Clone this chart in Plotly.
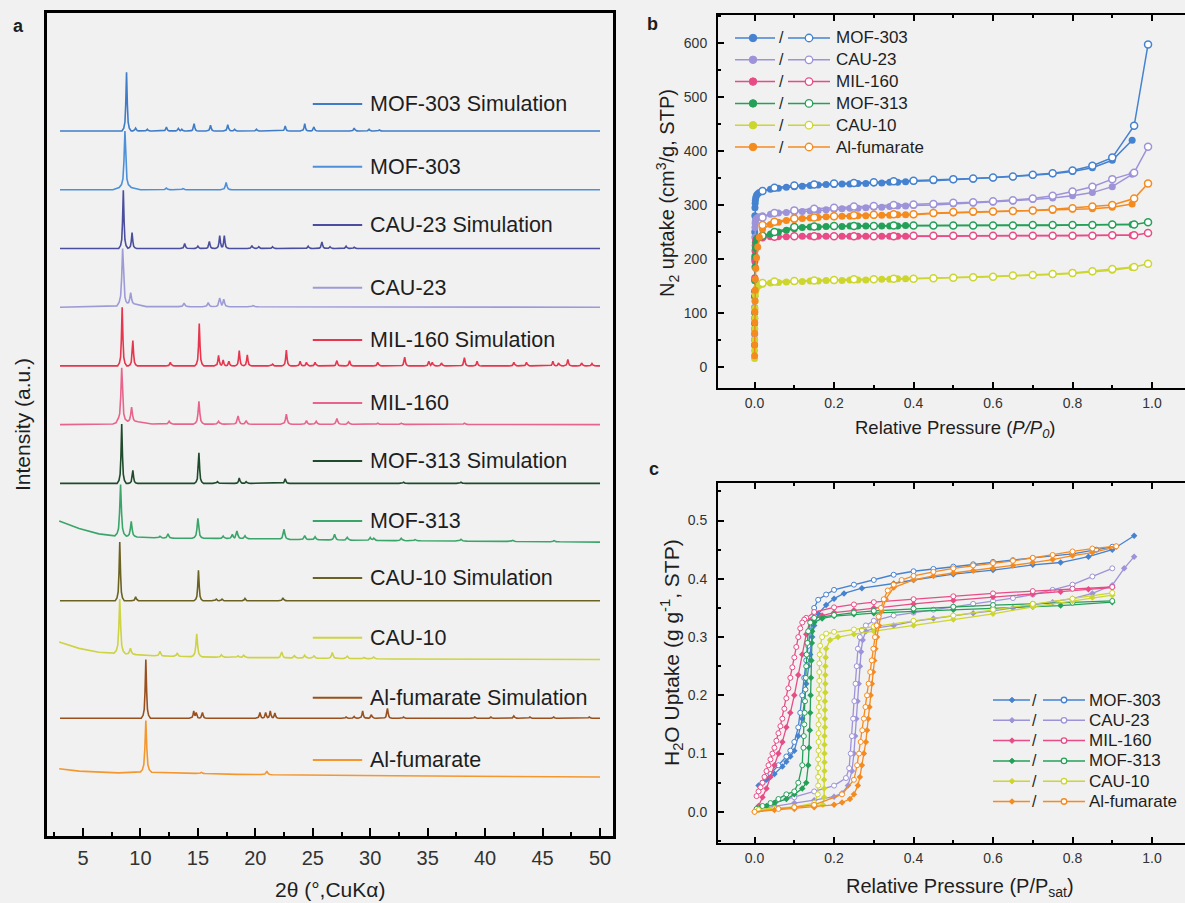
import numpy as np
import plotly.graph_objects as go

W, H = 1185, 903
BG = "#f1f1f1"
FONT = "Arial, 'Liberation Sans', Helvetica, sans-serif"
INK = "#1e1e1e"
TICK = "#333333"

# ======================= DATA : panel a (PXRD) =======================
xrd_names = ["MOF-303 Simulation", "MOF-303", "CAU-23 Simulation", "CAU-23",
             "MIL-160 Simulation", "MIL-160", "MOF-313 Simulation", "MOF-313",
             "CAU-10 Simulation", "CAU-10", "Al-fumarate Simulation", "Al-fumarate"]

# flat background for simulated patterns (2θ, intensity above own baseline)
sim_bg_x = [3.0, 50.0]
sim_bg_y = [0.0, 0.0]

mof303_sim_pos = [8.79, 9.58, 10.6, 12.26, 13.3, 13.6, 14.67, 16.1, 17.6, 18.2, 20.1, 22.6, 24.3, 25.1, 28.6, 29.9, 30.8]
mof303_sim_h = [1.0, 0.05, 0.03, 0.07, 0.045, 0.03, 0.125, 0.10, 0.11, 0.03, 0.03, 0.085, 0.125, 0.07, 0.05, 0.03, 0.02]

mof303_bg_x = [3.0, 7.6, 8.2, 9.2, 10.0, 50.0]
mof303_bg_y = [0.0, 0.0, 0.04, 0.04, 0.0, 0.0]
mof303_pos = [8.65, 12.26, 13.7, 17.46, 22.2, 28.2, 29.8]
mof303_h = [0.96, 0.03, 0.02, 0.125, 0.01, 0.01, 0.01]

cau23_sim_pos = [8.51, 9.27, 13.85, 15.0, 16.0, 16.9, 17.3, 19.7, 20.3, 21.5, 24.6, 25.8, 26.5, 27.9, 28.6]
cau23_sim_h = [0.99, 0.27, 0.085, 0.04, 0.12, 0.22, 0.22, 0.05, 0.03, 0.03, 0.04, 0.11, 0.03, 0.04, 0.02]

cau23_bg_x = [3.0, 7.8, 8.3, 9.6, 10.5, 50.0]
cau23_bg_y = [0.0, 0.01, 0.05, 0.05, 0.01, 0.0]
cau23_pos = [8.45, 9.15, 13.8, 15.9, 16.9, 17.25, 19.8]
cau23_h = [0.95, 0.2, 0.06, 0.07, 0.15, 0.13, 0.02]

mil160_sim_pos = [8.41, 9.34, 12.6, 15.12, 16.8, 17.2, 17.7, 18.6, 19.3, 21.5, 22.7, 23.9, 24.45, 25.2, 27.1,
                  28.2, 30.65, 33.0, 35.1, 35.4, 36.2, 38.2, 39.3, 42.5, 43.6, 45.9, 46.4, 47.2, 48.4, 49.3]
mil160_sim_h = [1.0, 0.43, 0.06, 0.72, 0.18, 0.1, 0.08, 0.26, 0.19, 0.03, 0.27, 0.08, 0.06, 0.06, 0.09,
                0.09, 0.06, 0.15, 0.08, 0.06, 0.05, 0.14, 0.08, 0.06, 0.06, 0.08, 0.05, 0.11, 0.05, 0.04]

mil160_bg_x = [3.0, 7.6, 8.1, 9.8, 11.0, 50.0]
mil160_bg_y = [0.0, 0.01, 0.05, 0.05, 0.01, 0.0]
mil160_pos = [8.37, 9.23, 12.5, 15.09, 16.8, 18.5, 19.2, 22.7, 24.45, 25.3, 27.1, 28.1, 30.65, 32.7, 38.2]
mil160_h = [0.92, 0.25, 0.05, 0.39, 0.05, 0.14, 0.06, 0.17, 0.06, 0.05, 0.1, 0.04, 0.02, 0.02, 0.02]

mof313_sim_pos = [8.37, 9.34, 15.09, 16.7, 18.6, 19.2, 22.6, 32.9, 37.9]
mof313_sim_h = [1.01, 0.22, 0.52, 0.03, 0.09, 0.03, 0.08, 0.02, 0.02]

mof313_bg_x = [2.93, 4.66, 6.38, 7.4, 11.5, 18.4, 28.8, 50.0]
mof313_bg_y = [0.36, 0.23, 0.14, 0.11, 0.07, 0.06, 0.03, 0.0]
mof313_pos = [8.27, 9.2, 11.7, 12.4, 15.0, 17.2, 18.0, 18.4, 19.1, 22.5, 24.3, 25.2, 26.9, 28.0,
              30.0, 30.3, 32.7, 33.9, 37.9, 42.4, 46.0]
mof313_h = [0.88, 0.26, 0.03, 0.07, 0.34, 0.04, 0.07, 0.13, 0.05, 0.17, 0.07, 0.05, 0.1, 0.05,
            0.05, 0.04, 0.04, 0.02, 0.03, 0.02, 0.02]

cau10_sim_pos = [8.2, 9.58, 15.05, 16.6, 17.1, 19.1, 22.4]
cau10_sim_h = [1.0, 0.07, 0.52, 0.03, 0.03, 0.04, 0.05]

cau10_bg_x = [2.93, 4.66, 6.38, 7.6, 11.5, 18.4, 32.0, 50.0]
cau10_bg_y = [0.3, 0.19, 0.125, 0.11, 0.06, 0.035, 0.01, 0.0]
cau10_pos = [8.2, 9.13, 11.7, 13.2, 14.9, 17.05, 18.5, 19.0, 22.3, 23.4, 24.3, 25.1, 26.7, 28.0, 29.45, 30.3]
cau10_h = [0.93, 0.1, 0.08, 0.05, 0.39, 0.04, 0.03, 0.04, 0.1, 0.04, 0.05, 0.04, 0.1, 0.04, 0.02, 0.03]

alfum_sim_pos = [10.47, 14.64, 14.85, 15.4, 20.4, 20.9, 21.3, 21.7, 27.9, 28.6, 29.34, 30.1, 31.5, 32.9,
                 39.1, 40.5, 42.5, 43.9, 45.97, 49.07]
alfum_sim_h = [1.0, 0.125, 0.1, 0.1, 0.1, 0.1, 0.125, 0.09, 0.02, 0.03, 0.125, 0.06, 0.17, 0.02,
               0.02, 0.02, 0.04, 0.02, 0.02, 0.02]

alfum_bg_x = [2.93, 4.66, 8.1, 10.0, 10.9, 18.4, 32.0, 50.0]
alfum_bg_y = [0.14, 0.1, 0.07, 0.08, 0.08, 0.045, 0.02, 0.0]
alfum_pos = [10.47, 15.3, 21.0]
alfum_h = [0.88, 0.02, 0.06]

xrd_tick_vals = [5, 10, 15, 20, 25, 30, 35, 40, 45, 50]

# ======================= DATA : panel b (N2 isotherms) =======================
n2_names = ["MOF-303", "CAU-23", "MIL-160", "MOF-313", "CAU-10", "Al-fumarate"]
n2_p_ads = [0.00005, 0.0001, 0.0002, 0.0004, 0.0007, 0.001, 0.0015, 0.002, 0.003, 0.005, 0.008, 0.012,
            0.02, 0.04, 0.06, 0.08, 0.10, 0.12, 0.14, 0.16, 0.18, 0.20, 0.22, 0.24, 0.26, 0.28, 0.30,
            0.32, 0.34, 0.36, 0.38, 0.40, 0.45, 0.50, 0.55, 0.60, 0.65, 0.70, 0.75, 0.80, 0.85, 0.90, 0.95]
n2_p_des = [0.99, 0.955, 0.90, 0.85, 0.80, 0.75, 0.70, 0.65, 0.60, 0.55, 0.50, 0.45, 0.40, 0.35,
            0.30, 0.25, 0.20, 0.15, 0.10, 0.05, 0.02]

n2_ads_mof303 = [80, 140, 200, 250, 280, 295, 303, 309, 314, 318, 321, 323, 326, 329, 331, 333, 334, 335,
                 336, 337, 338, 338, 339, 339, 340, 340, 341, 341, 342, 342, 343, 344, 345, 347, 348, 350,
                 352, 355, 358, 362, 369, 383, 420]
n2_ads_cau23 = [60, 110, 160, 205, 240, 258, 266, 270, 273, 275, 277, 278, 280, 283, 285, 286, 287, 288,
                289, 290, 291, 292, 293, 294, 294, 295, 296, 296, 297, 298, 298, 299, 300, 302, 303, 305,
                307, 310, 313, 317, 323, 334, 357]
n2_ads_mil160 = [50, 90, 130, 165, 195, 215, 225, 231, 235, 238, 239, 240, 241, 241, 241, 241, 242, 242,
                 242, 242, 242, 242, 242, 242, 242, 242, 242, 242, 242, 242, 242, 242, 242, 242, 243, 243,
                 243, 243, 243, 243, 243, 243, 244]
n2_ads_mof313 = [40, 70, 100, 130, 160, 185, 205, 220, 230, 236, 239, 240, 242, 246, 250, 253, 256, 258,
                 259, 259, 260, 260, 260, 261, 261, 261, 261, 261, 261, 261, 262, 262, 262, 262, 262, 262,
                 262, 262, 262, 263, 263, 263, 264]
n2_ads_cau10 = [15, 30, 50, 70, 90, 108, 122, 133, 141, 146, 149, 151, 153, 155, 156, 157, 158, 158,
                159, 159, 160, 160, 160, 161, 161, 161, 162, 162, 162, 163, 163, 163, 164, 165, 166, 167,
                168, 170, 171, 173, 176, 179, 184]
n2_ads_alfum = [20, 40, 62, 82, 102, 122, 142, 162, 182, 202, 222, 240, 255, 264, 268, 271, 273, 275,
                276, 277, 278, 278, 279, 279, 280, 280, 281, 281, 281, 282, 282, 282, 284, 285, 286, 287,
                288, 289, 290, 292, 293, 296, 302]

n2_des_mof303 = [598, 447, 388, 373, 364, 359, 356, 353, 351, 349, 348, 347, 345, 344, 342, 341, 340, 338, 336, 332, 326]
n2_des_cau23 = [408, 360, 348, 334, 325, 317, 312, 309, 307, 305, 304, 302, 301, 300, 298, 297, 295, 293, 290, 285, 277]
n2_des_mil160 = [248, 244, 244, 243, 243, 243, 243, 243, 243, 243, 243, 243, 243, 242, 242, 242, 242, 242, 242, 241, 240]
n2_des_mof313 = [268, 264, 264, 263, 263, 263, 263, 262, 262, 262, 262, 262, 262, 262, 261, 261, 261, 260, 259, 250, 243]
n2_des_cau10 = [191, 185, 181, 177, 174, 172, 170, 169, 167, 166, 165, 164, 163, 163, 162, 162, 161, 160, 159, 158, 155]
n2_des_alfum = [340, 312, 300, 297, 294, 292, 290, 289, 288, 288, 287, 285, 283, 283, 282, 281, 279, 277, 275, 269, 263]

# ======================= DATA : panel c (H2O isotherms) =======================
h2o_ads_p_mof303 = [0.01, 0.03, 0.05, 0.07, 0.08, 0.09, 0.10, 0.11, 0.12, 0.125, 0.13, 0.135, 0.14, 0.145, 0.15,
                    0.16, 0.18, 0.20, 0.225, 0.27, 0.35, 0.40, 0.50, 0.60, 0.70, 0.77, 0.84, 0.90, 0.955]
h2o_ads_mof303 = [0.045, 0.055, 0.065, 0.078, 0.086, 0.095, 0.105, 0.13, 0.16, 0.19, 0.22, 0.25, 0.27, 0.3, 0.32,
                  0.34, 0.355, 0.366, 0.375, 0.384, 0.392, 0.398, 0.408, 0.415, 0.424, 0.428, 0.438, 0.45, 0.474]
h2o_des_p_mof303 = [0.90, 0.86, 0.80, 0.70, 0.65, 0.60, 0.55, 0.50, 0.45, 0.40, 0.35, 0.30, 0.25, 0.20, 0.18, 0.16,
                    0.15, 0.145, 0.14, 0.135, 0.13, 0.125, 0.12, 0.115, 0.11, 0.10, 0.09, 0.08, 0.06, 0.04, 0.02]
h2o_des_mof303 = [0.455, 0.45, 0.443, 0.436, 0.432, 0.429, 0.425, 0.421, 0.417, 0.413, 0.407, 0.398, 0.39, 0.381,
                  0.373, 0.364, 0.35, 0.33, 0.31, 0.285, 0.26, 0.23, 0.2, 0.17, 0.145, 0.12, 0.105, 0.095, 0.08,
                  0.065, 0.05]

h2o_ads_p_cau23 = [0.01, 0.05, 0.10, 0.15, 0.20, 0.22, 0.235, 0.245, 0.25, 0.253, 0.256, 0.259, 0.262, 0.265,
                   0.268, 0.272, 0.28, 0.30, 0.35, 0.40, 0.45, 0.50, 0.55, 0.60, 0.65, 0.70, 0.75, 0.80, 0.85,
                   0.90, 0.93, 0.955]
h2o_ads_cau23 = [0.005, 0.01, 0.015, 0.02, 0.026, 0.032, 0.045, 0.07, 0.1, 0.13, 0.16, 0.19, 0.22, 0.25, 0.275,
                 0.295, 0.31, 0.315, 0.32, 0.327, 0.332, 0.337, 0.341, 0.345, 0.35, 0.355, 0.36, 0.366, 0.375,
                 0.389, 0.418, 0.438]
h2o_des_p_cau23 = [0.90, 0.85, 0.80, 0.75, 0.70, 0.65, 0.60, 0.55, 0.50, 0.45, 0.40, 0.35, 0.30, 0.28, 0.27,
                   0.265, 0.26, 0.257, 0.254, 0.251, 0.248, 0.245, 0.242, 0.238, 0.23, 0.20, 0.15, 0.10, 0.05, 0.01]
h2o_des_cau23 = [0.418, 0.404, 0.39, 0.381, 0.373, 0.367, 0.362, 0.357, 0.352, 0.347, 0.342, 0.337, 0.328, 0.32,
                 0.312, 0.3, 0.28, 0.25, 0.22, 0.19, 0.16, 0.13, 0.1, 0.075, 0.058, 0.045, 0.035, 0.025, 0.015, 0.008]

h2o_ads_p_mil160 = [0.01, 0.02, 0.03, 0.04, 0.05, 0.06, 0.07, 0.08, 0.09, 0.10, 0.11, 0.12, 0.13, 0.14, 0.17,
                    0.20, 0.25, 0.30, 0.40, 0.50, 0.60, 0.70, 0.77, 0.84, 0.90]
h2o_ads_mil160 = [0.01, 0.025, 0.04, 0.06, 0.08, 0.10, 0.12, 0.145, 0.17, 0.20, 0.235, 0.27, 0.305, 0.328, 0.337,
                  0.342, 0.346, 0.35, 0.357, 0.363, 0.369, 0.374, 0.378, 0.382, 0.385]
h2o_des_p_mil160 = [0.90, 0.80, 0.70, 0.60, 0.50, 0.40, 0.30, 0.25, 0.20, 0.15, 0.13, 0.125, 0.12, 0.115, 0.11,
                    0.105, 0.10, 0.095, 0.09, 0.085, 0.08, 0.075, 0.07, 0.065, 0.06, 0.055, 0.05, 0.045, 0.04,
                    0.035, 0.03, 0.025, 0.02, 0.015, 0.01, 0.005]
h2o_des_mil160 = [0.386, 0.383, 0.379, 0.375, 0.37, 0.365, 0.36, 0.356, 0.351, 0.343, 0.333, 0.33, 0.325, 0.315,
                  0.30, 0.283, 0.265, 0.248, 0.23, 0.212, 0.195, 0.177, 0.16, 0.147, 0.135, 0.122, 0.11, 0.1,
                  0.09, 0.08, 0.07, 0.06, 0.05, 0.042, 0.035, 0.027]

h2o_ads_p_mof313 = [0.01, 0.03, 0.05, 0.08, 0.10, 0.12, 0.13, 0.135, 0.137, 0.139, 0.14, 0.141, 0.142, 0.143,
                    0.144, 0.145, 0.15, 0.17, 0.20, 0.25, 0.30, 0.40, 0.50, 0.60, 0.70, 0.77, 0.90]
h2o_ads_mof313 = [0.005, 0.01, 0.015, 0.022, 0.03, 0.04, 0.05, 0.08, 0.11, 0.14, 0.17, 0.2, 0.23, 0.26, 0.29,
                  0.31, 0.325, 0.332, 0.336, 0.339, 0.341, 0.344, 0.347, 0.35, 0.352, 0.354, 0.36]
h2o_des_p_mof313 = [0.90, 0.80, 0.70, 0.60, 0.50, 0.40, 0.30, 0.25, 0.20, 0.15, 0.14, 0.135, 0.133, 0.131, 0.13,
                    0.129, 0.128, 0.127, 0.126, 0.125, 0.124, 0.123, 0.12, 0.11, 0.10, 0.08, 0.06, 0.04, 0.02, 0.005]
h2o_des_mof313 = [0.362, 0.359, 0.357, 0.355, 0.352, 0.349, 0.345, 0.342, 0.338, 0.333, 0.325, 0.31, 0.29, 0.27,
                  0.25, 0.23, 0.21, 0.19, 0.17, 0.15, 0.13, 0.11, 0.08, 0.05, 0.035, 0.03, 0.022, 0.015, 0.01, 0.005]

h2o_ads_p_cau10 = [0.01, 0.05, 0.10, 0.15, 0.172, 0.175, 0.175, 0.175, 0.176, 0.176, 0.176, 0.176, 0.176, 0.177,
                   0.177, 0.177, 0.177, 0.178, 0.178, 0.178, 0.178, 0.179, 0.18, 0.19, 0.21, 0.25, 0.30, 0.40,
                   0.50, 0.60, 0.70, 0.80, 0.85, 0.90]
h2o_ads_cau10 = [0.004, 0.006, 0.008, 0.01, 0.012, 0.025, 0.04, 0.055, 0.07, 0.085, 0.1, 0.115, 0.13, 0.145,
                 0.16, 0.175, 0.19, 0.205, 0.22, 0.235, 0.25, 0.265, 0.28, 0.295, 0.3, 0.305, 0.31, 0.32, 0.33,
                 0.34, 0.352, 0.362, 0.368, 0.372]
h2o_des_p_cau10 = [0.90, 0.80, 0.70, 0.60, 0.50, 0.40, 0.30, 0.25, 0.20, 0.18, 0.17, 0.165, 0.164, 0.163, 0.163,
                   0.163, 0.162, 0.162, 0.162, 0.162, 0.161, 0.161, 0.161, 0.161, 0.160, 0.160, 0.160, 0.160,
                   0.159, 0.15, 0.10, 0.05, 0.01]
h2o_des_cau10 = [0.376, 0.366, 0.357, 0.347, 0.337, 0.328, 0.318, 0.313, 0.309, 0.306, 0.3, 0.285, 0.27, 0.255,
                 0.24, 0.225, 0.21, 0.195, 0.18, 0.165, 0.15, 0.135, 0.12, 0.105, 0.09, 0.075, 0.06, 0.045, 0.03,
                 0.015, 0.008, 0.005, 0.003]

h2o_ads_p_alfum = [0.0, 0.05, 0.10, 0.15, 0.20, 0.22, 0.24, 0.25, 0.26, 0.265, 0.27, 0.275, 0.28, 0.283, 0.286,
                   0.289, 0.292, 0.295, 0.298, 0.301, 0.304, 0.308, 0.313, 0.32, 0.33, 0.35, 0.40, 0.45, 0.50,
                   0.55, 0.60, 0.65, 0.70, 0.75, 0.80, 0.85, 0.91]
h2o_ads_alfum = [0.0, 0.003, 0.005, 0.008, 0.012, 0.016, 0.022, 0.03, 0.045, 0.06, 0.08, 0.1, 0.12, 0.14, 0.16,
                 0.18, 0.2, 0.22, 0.24, 0.26, 0.28, 0.3, 0.32, 0.345, 0.365, 0.385, 0.398, 0.405, 0.41, 0.414,
                 0.418, 0.423, 0.428, 0.433, 0.44, 0.445, 0.455]
h2o_des_p_alfum = [0.91, 0.85, 0.80, 0.75, 0.70, 0.65, 0.60, 0.55, 0.50, 0.45, 0.40, 0.37, 0.35, 0.335, 0.325,
                   0.318, 0.312, 0.307, 0.303, 0.299, 0.295, 0.291, 0.287, 0.283, 0.279, 0.275, 0.271, 0.267,
                   0.263, 0.258, 0.25, 0.22, 0.15, 0.10, 0.06, 0.0]
h2o_des_alfum = [0.456, 0.452, 0.447, 0.441, 0.436, 0.431, 0.427, 0.423, 0.418, 0.412, 0.405, 0.398, 0.39, 0.38,
                 0.365, 0.35, 0.335, 0.32, 0.3, 0.28, 0.26, 0.24, 0.22, 0.2, 0.18, 0.16, 0.14, 0.12, 0.1, 0.08,
                 0.055, 0.03, 0.012, 0.008, 0.005, 0.0]

# ======================= STYLE =======================
xrd_colors = ["#3f7cc8", "#4b90d8", "#4b4e9e", "#9d9bd6", "#e6354d", "#e8648c",
              "#1f4a2c", "#3aa569", "#6b6222", "#cdd342", "#99501d", "#f4972e"]
iso_colors = ["#4582d0", "#9d93d8", "#e84c86", "#24a058", "#cdd62e", "#f58a1f"]

SHAPE_OFF = [-1.0, -0.6, -0.35, -0.18, 0.0, 0.18, 0.35, 0.6, 1.0]
SHAPE_FR = [0.0, 0.05, 0.15, 0.45, 1.0, 0.45, 0.15, 0.05, 0.0]


def spike_line(bg_x, bg_y, pos, hts, w):
    """Polyline: read background anchors plus read peaks drawn as narrow spikes."""
    xs = set(bg_x)
    for p in pos:
        for o in SHAPE_OFF:
            xs.add(round(p + o * w, 4))
    xs = np.array(sorted(x for x in xs if bg_x[0] <= x <= bg_x[-1]))
    base = np.interp(xs, bg_x, bg_y)
    add = np.zeros_like(xs)
    off = np.array(SHAPE_OFF) * w
    for p, h in zip(pos, hts):
        add = np.maximum(add, h * np.interp(xs - p, off, SHAPE_FR, left=0.0, right=0.0))
    return xs, base + add


xrd_sets = [
    (sim_bg_x, sim_bg_y, mof303_sim_pos, mof303_sim_h),
    (mof303_bg_x, mof303_bg_y, mof303_pos, mof303_h),
    (sim_bg_x, sim_bg_y, cau23_sim_pos, cau23_sim_h),
    (cau23_bg_x, cau23_bg_y, cau23_pos, cau23_h),
    (sim_bg_x, sim_bg_y, mil160_sim_pos, mil160_sim_h),
    (mil160_bg_x, mil160_bg_y, mil160_pos, mil160_h),
    (sim_bg_x, sim_bg_y, mof313_sim_pos, mof313_sim_h),
    (mof313_bg_x, mof313_bg_y, mof313_pos, mof313_h),
    (sim_bg_x, sim_bg_y, cau10_sim_pos, cau10_sim_h),
    (cau10_bg_x, cau10_bg_y, cau10_pos, cau10_h),
    (sim_bg_x, sim_bg_y, alfum_sim_pos, alfum_sim_h),
    (alfum_bg_x, alfum_bg_y, alfum_pos, alfum_h),
]
label_dy = [0.46, 0.39, 0.40, 0.33, 0.44, 0.37, 0.38, 0.36, 0.39, 0.37, 0.35, 0.29]

fig = go.Figure()
shapes = []
annos = []

n_xrd = len(xrd_names)
for k, (name, (bx, by, pos, hts)) in enumerate(zip(xrd_names, xrd_sets)):
    offset = (n_xrd - 1 - k) * 1.0
    w = 0.4 if "Simulation" in name else 0.5
    xs, ys = spike_line(bx, by, pos, hts, w)
    fig.add_trace(go.Scatter(x=xs, y=ys + offset, mode="lines", xaxis="x", yaxis="y",
                             line=dict(color=xrd_colors[k], width=1.6), showlegend=False,
                             hoverinfo="skip"))
    ly = offset + label_dy[k]
    shapes.append(dict(type="line", xref="x", yref="y", x0=25.0, x1=29.3, y0=ly, y1=ly,
                       line=dict(color=xrd_colors[k], width=2)))
    annos.append(dict(x=29.8, y=ly, xref="x", yref="y", text=name, showarrow=False,
                      xanchor="left", yanchor="middle", font=dict(size=21.5, color=INK, family=FONT)))

# ---------- panel b ----------
n2_ads = [n2_ads_mof303, n2_ads_cau23, n2_ads_mil160, n2_ads_mof313, n2_ads_cau10, n2_ads_alfum]
n2_des = [n2_des_mof303, n2_des_cau23, n2_des_mil160, n2_des_mof313, n2_des_cau10, n2_des_alfum]
for i, name in enumerate(n2_names):
    c = iso_colors[i]
    fig.add_trace(go.Scatter(x=n2_p_ads, y=n2_ads[i], mode="lines+markers", xaxis="x2", yaxis="y2",
                             line=dict(color=c, width=1.5),
                             marker=dict(symbol="circle", size=7, color=c, line=dict(width=0)),
                             showlegend=False, hoverinfo="skip"))
    fig.add_trace(go.Scatter(x=n2_p_des, y=n2_des[i], mode="lines+markers", xaxis="x2", yaxis="y2",
                             line=dict(color=c, width=1.5),
                             marker=dict(symbol="circle", size=7, color="white", line=dict(color=c, width=1.5)),
                             showlegend=False, hoverinfo="skip"))

# ---------- panel c ----------
h2o_ads_p = [h2o_ads_p_mof303, h2o_ads_p_cau23, h2o_ads_p_mil160, h2o_ads_p_mof313, h2o_ads_p_cau10, h2o_ads_p_alfum]
h2o_ads = [h2o_ads_mof303, h2o_ads_cau23, h2o_ads_mil160, h2o_ads_mof313, h2o_ads_cau10, h2o_ads_alfum]
h2o_des_p = [h2o_des_p_mof303, h2o_des_p_cau23, h2o_des_p_mil160, h2o_des_p_mof313, h2o_des_p_cau10, h2o_des_p_alfum]
h2o_des = [h2o_des_mof303, h2o_des_cau23, h2o_des_mil160, h2o_des_mof313, h2o_des_cau10, h2o_des_alfum]
for i, name in enumerate(n2_names):
    c = iso_colors[i]
    fig.add_trace(go.Scatter(x=h2o_ads_p[i], y=h2o_ads[i], mode="lines+markers", xaxis="x3", yaxis="y3",
                             line=dict(color=c, width=1.3),
                             marker=dict(symbol="diamond", size=5, color=c, line=dict(width=0)),
                             showlegend=False, hoverinfo="skip"))
    fig.add_trace(go.Scatter(x=h2o_des_p[i], y=h2o_des[i], mode="lines+markers", xaxis="x3", yaxis="y3",
                             line=dict(color=c, width=1.3),
                             marker=dict(symbol="circle", size=5, color="white", line=dict(color=c, width=1)),
                             showlegend=False, hoverinfo="skip"))


# ---------- custom legends for b and c (layout decorations) ----------
def px(xp):
    return xp / W


def py(yp):
    return 1 - yp / H


def legend_block(y0, dy, fl, fm, slash_x, ol, om, tx, msize, filled_sym, font_size):
    for i, name in enumerate(n2_names):
        c = iso_colors[i]
        yy = y0 + i * dy
        shapes.append(dict(type="line", xref="paper", yref="paper", x0=px(fl[0]), x1=px(fl[1]),
                           y0=py(yy), y1=py(yy), line=dict(color=c, width=1.5)))
        shapes.append(dict(type="line", xref="paper", yref="paper", x0=px(ol[0]), x1=px(ol[1]),
                           y0=py(yy), y1=py(yy), line=dict(color=c, width=1.5)))
        r = msize / 2
        if filled_sym == "circle":
            shapes.append(dict(type="circle", xref="paper", yref="paper", xsizemode="pixel", ysizemode="pixel",
                               xanchor=px(fm), yanchor=py(yy), x0=-r, x1=r, y0=-r, y1=r,
                               fillcolor=c, line=dict(color=c, width=1)))
        else:
            shapes.append(dict(type="path", xref="paper", yref="paper", xsizemode="pixel", ysizemode="pixel",
                               xanchor=px(fm), yanchor=py(yy),
                               path=f"M {-r} 0 L 0 {r} L {r} 0 L 0 {-r} Z",
                               fillcolor=c, line=dict(color=c, width=1)))
        shapes.append(dict(type="circle", xref="paper", yref="paper", xsizemode="pixel", ysizemode="pixel",
                           xanchor=px(om), yanchor=py(yy), x0=-r, x1=r, y0=-r, y1=r,
                           fillcolor="white", line=dict(color=c, width=1.3)))
        annos.append(dict(x=px(slash_x), y=py(yy), xref="paper", yref="paper", text="/", showarrow=False,
                          xanchor="center", yanchor="middle", font=dict(size=font_size - 1, color=INK, family=FONT)))
        annos.append(dict(x=px(tx), y=py(yy), xref="paper", yref="paper", text=name, showarrow=False,
                          xanchor="left", yanchor="middle", font=dict(size=font_size, color=INK, family=FONT)))


legend_block(38.0, 21.8, (735, 775), 753, 781.5, (788, 830), 809, 834, 7.5, "circle", 17)
legend_block(700.0, 20.3, (993, 1030), 1012, 1034, (1043, 1085), 1064, 1087, 5.5, "diamond", 17)

# ---------- axis titles and panel letters ----------
annos += [
    dict(x=px(330), y=py(889), xref="paper", yref="paper", text="2θ (°,CuKα)", showarrow=False,
         xanchor="center", yanchor="middle", font=dict(size=21, color=INK, family=FONT)),
    dict(x=px(22), y=py(425), xref="paper", yref="paper", text="Intensity (a.u.)", showarrow=False,
         textangle=-90, xanchor="center", yanchor="middle", font=dict(size=21, color=INK, family=FONT)),
    dict(x=px(955), y=py(429), xref="paper", yref="paper", text="Relative Pressure (<i>P/P<sub>0</sub></i>)",
         showarrow=False, xanchor="center", yanchor="middle", font=dict(size=18.5, color=INK, family=FONT)),
    dict(x=px(667), y=py(193), xref="paper", yref="paper", text="N<sub>2</sub> uptake (cm<sup>3</sup>/g, STP)",
         showarrow=False, textangle=-90, xanchor="center", yanchor="middle",
         font=dict(size=20, color=INK, family=FONT)),
    dict(x=px(960), y=py(887), xref="paper", yref="paper", text="Relative Pressure (P/P<sub>sat</sub>)",
         showarrow=False, xanchor="center", yanchor="middle", font=dict(size=20, color=INK, family=FONT)),
    dict(x=px(671), y=py(652), xref="paper", yref="paper", text="H<sub>2</sub>O Uptake (g g<sup>-1</sup>, STP)",
         showarrow=False, textangle=-90, xanchor="center", yanchor="middle",
         font=dict(size=21, color=INK, family=FONT)),
    dict(x=px(18), y=py(26), xref="paper", yref="paper", text="<b>a</b>", showarrow=False,
         xanchor="center", yanchor="middle", font=dict(size=18, color=INK, family=FONT)),
    dict(x=px(652), y=py(24), xref="paper", yref="paper", text="<b>b</b>", showarrow=False,
         xanchor="center", yanchor="middle", font=dict(size=18, color=INK, family=FONT)),
    dict(x=px(654), y=py(469), xref="paper", yref="paper", text="<b>c</b>", showarrow=False,
         xanchor="center", yanchor="middle", font=dict(size=18, color=INK, family=FONT)),
]

axis_common = dict(showgrid=False, zeroline=False, showline=True, linecolor="black")

fig.update_layout(
    width=W, height=H, margin=dict(l=0, r=0, t=0, b=0),
    paper_bgcolor=BG, plot_bgcolor=BG, showlegend=False,
    font=dict(family=FONT, color=INK),
    xaxis=dict(**axis_common, domain=[47 / W, 613 / W], range=[1.867, 51.13], linewidth=2.5, mirror=True,
               tickmode="array", tickvals=xrd_tick_vals, ticks="inside", ticklen=8, tickwidth=2,
               tickcolor="black", tickfont=dict(size=20, color=TICK, family=FONT), ticklabelstandoff=2,
               minor=dict(ticks="inside", ticklen=4, tickwidth=1.5, tickcolor="black", dtick=2.5, tick0=2.5),
               anchor="y"),
    yaxis=dict(**axis_common, domain=[1 - 836 / H, 1 - 13 / H], range=[-1.005, 13.01], linewidth=2.5,
               mirror=True, showticklabels=False, ticks="", anchor="x"),
    xaxis2=dict(**axis_common, domain=[718 / W, 1.0], range=[-0.092, 1.083], linewidth=2, mirror="ticks",
                tickmode="array", tickvals=[0, 0.2, 0.4, 0.6, 0.8, 1.0], tickformat=".1f",
                ticks="inside", ticklen=6, tickwidth=2, tickcolor="black",
                tickfont=dict(size=14, color=TICK, family=FONT), ticklabelstandoff=1,
                minor=dict(ticks="inside", ticklen=3, tickwidth=1.5, tickcolor="black", dtick=0.1, tick0=0),
                anchor="y2"),
    yaxis2=dict(**axis_common, domain=[1 - 388.3 / H, 1 - 15 / H], range=[-40.2, 652.6], linewidth=2,
                mirror=False, tickmode="array", tickvals=[0, 100, 200, 300, 400, 500, 600],
                ticks="inside", ticklen=6, tickwidth=2, tickcolor="black",
                tickfont=dict(size=14, color=TICK, family=FONT), ticklabelstandoff=6,
                minor=dict(ticks="inside", ticklen=3, tickwidth=1.5, tickcolor="black", dtick=50, tick0=0),
                anchor="x2"),
    xaxis3=dict(**axis_common, domain=[718 / W, 1.0], range=[-0.092, 1.083], linewidth=2, mirror="ticks",
                tickmode="array", tickvals=[0, 0.2, 0.4, 0.6, 0.8, 1.0], tickformat=".1f",
                ticks="inside", ticklen=6, tickwidth=2, tickcolor="black",
                tickfont=dict(size=14, color=TICK, family=FONT), ticklabelstandoff=1,
                minor=dict(ticks="inside", ticklen=3, tickwidth=1.5, tickcolor="black", dtick=0.1, tick0=0),
                anchor="y3"),
    yaxis3=dict(**axis_common, domain=[1 - 842.7 / H, 1 - 483.3 / H], range=[-0.053, 0.564], linewidth=2,
                mirror=False, tickmode="array", tickvals=[0, 0.1, 0.2, 0.3, 0.4, 0.5], tickformat=".1f",
                ticks="inside", ticklen=6, tickwidth=2, tickcolor="black",
                tickfont=dict(size=14, color=TICK, family=FONT), ticklabelstandoff=6,
                minor=dict(ticks="inside", ticklen=3, tickwidth=1.5, tickcolor="black", dtick=0.05, tick0=0),
                anchor="x3"),
    shapes=shapes, annotations=annos,
)

fig.write_html("out.html")
